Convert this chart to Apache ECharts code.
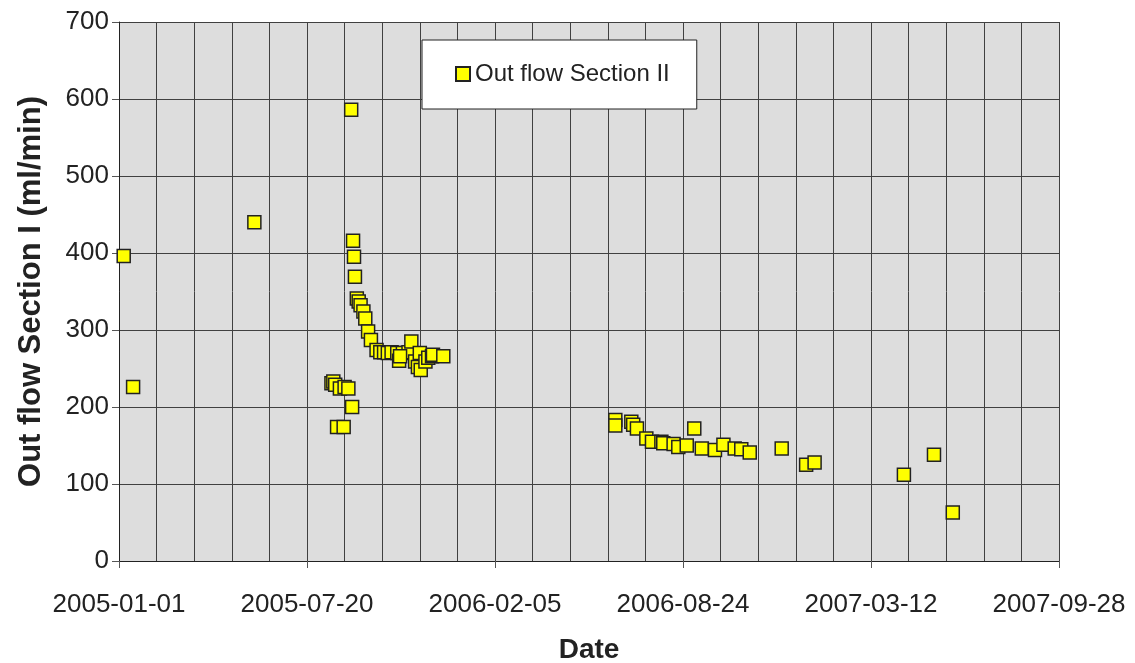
<!DOCTYPE html>
<html>
<head>
<meta charset="utf-8">
<script src="https://cdn.jsdelivr.net/npm/echarts@6/dist/echarts.min.js"></script>
<style>
  html, body { margin: 0; padding: 0; background: #fff; }
  #chart { width: 1135px; height: 663px; }
</style>
</head>
<body>
<div id="chart"></div>
<script>
// x values are days counted from startDate
var startDate = Date.UTC(2005, 0, 1);
var dayOffsets = [
  5, 15, 144,
  247, 249, 250, 251, 253, 255, 257, 260, 262, 265, 268, 274,
  278, 282, 286, 290, 296, 302, 308, 298, 311, 299, 315, 318, 321, 320, 326, 329, 333, 334, 345,
  226, 228, 230, 235, 240, 244, 248, 232, 239,
  528, 528, 545, 547, 551, 561, 567, 577, 579, 590, 595, 604, 612, 620, 634, 643, 655, 662, 671,
  705, 731, 740, 835, 867, 887
];
var outFlow = [
  396, 226, 440,
  586, 416, 395, 369, 341, 337, 332, 324, 315, 298, 287, 274,
  271, 271, 270, 271, 270, 270, 271, 260, 285, 266, 259, 252, 248, 270, 259, 264, 266, 268, 266,
  231, 233, 229, 224, 226, 224, 200, 174, 174,
  183, 176, 181, 177, 172, 159, 155, 155, 153, 152, 148, 150, 172, 146, 144, 151, 146, 145, 141,
  146, 125, 128, 112, 138, 63
];
var seriesName = 'Out flow Section II';

var points = dayOffsets.map(function (d, i) { return [d, outFlow[i]]; });

function dayToDate(v) {
  return new Date(startDate + v * 86400000).toISOString().slice(0, 10);
}

var chart = echarts.init(document.getElementById('chart'));
var font = '"Liberation Sans", Arial, sans-serif';
var gridLine = { color: '#404040', width: 1 };

chart.setOption({
  animation: false,
  textStyle: { fontFamily: font },
  grid: {
    left: 119, right: 76, top: 22, bottom: 102,
    outerBoundsMode: 'none',
    containLabel: false,
    show: true,
    backgroundColor: '#DDDDDD',
    borderWidth: 0
  },
  legend: {
    data: [seriesName],
    left: 422,
    top: 40,
    orient: 'horizontal',
    backgroundColor: '#fff',
    borderColor: '#222',
    borderWidth: 1,
    padding: [22, 27, 23, 33],
    itemWidth: 14,
    itemHeight: 14,
    icon: 'rect',
    textStyle: { fontSize: 24, color: '#222', fontFamily: font }
  },
  xAxis: {
    type: 'value',
    min: 0,
    max: 1000,
    interval: 200,
    name: 'Date',
    nameLocation: 'middle',
    nameGap: 75,
    nameTextStyle: { fontSize: 28, fontWeight: 'bold', color: '#222' },
    axisLine: { show: true, onZero: false, lineStyle: { color: '#222', width: 1 } },
    axisTick: { show: true, length: 7, lineStyle: { color: '#555' } },
    axisLabel: {
      fontSize: 26,
      color: '#222',
      margin: 31,
      formatter: dayToDate
    },
    splitLine: { show: true, lineStyle: gridLine },
    minorTick: { show: false, splitNumber: 5 },
    minorSplitLine: { show: true, lineStyle: gridLine }
  },
  yAxis: {
    type: 'value',
    min: 0,
    max: 700,
    interval: 100,
    name: 'Out flow Section I (ml/min)',
    nameLocation: 'middle',
    nameGap: 72,
    nameTextStyle: { fontSize: 31, fontWeight: 'bold', color: '#222' },
    axisLine: { show: true, lineStyle: { color: '#222', width: 1 } },
    axisTick: { show: true, length: 7, lineStyle: { color: '#555' } },
    axisLabel: { fontSize: 26, color: '#222', margin: 10 },
    splitLine: { show: true, lineStyle: gridLine }
  },
  series: [{
    name: seriesName,
    type: 'scatter',
    symbol: 'rect',
    symbolSize: 13,
    itemStyle: {
      color: '#FFFF00',
      borderColor: '#222',
      borderWidth: 1.5,
      opacity: 1
    },
    data: points
  }]
});
</script>
</body>
</html>
